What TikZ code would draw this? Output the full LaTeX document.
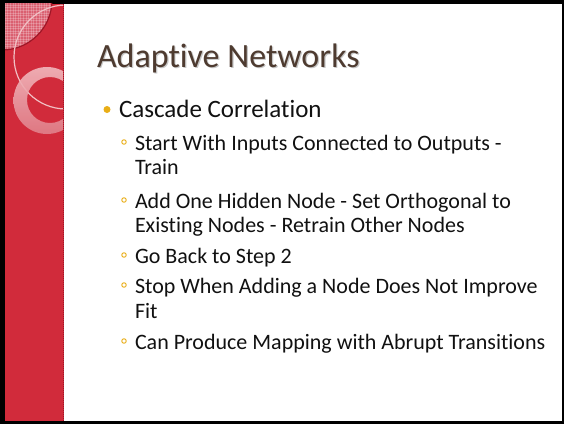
\documentclass[tikz,border=0pt]{standalone}
\usepackage{fontspec}
\setmainfont[RawFeature={-liga;-dlig;-clig}]{Carlito}
\definecolor{slidered}{HTML}{D12B3B}
\definecolor{darkred}{HTML}{9E1626}
\definecolor{checkpink}{HTML}{DA6070}
\definecolor{ringlight}{HTML}{F2B9BE}
\definecolor{ringdark}{HTML}{E0808A}
\definecolor{titlebrown}{HTML}{4E3B30}
\definecolor{bulletgold}{HTML}{E9AE16}
\definecolor{bodytext}{HTML}{111111}
\tikzset{
  lbl/.style={anchor=base west, inner sep=0pt, outer sep=0pt},
  titletext/.style={lbl, font=\fontsize{34}{40}\selectfont, text=titlebrown},
  lvlone/.style={lbl, font=\fontsize{25}{30}\selectfont, text=bodytext},
  lvltwo/.style={lbl, font=\fontsize{22}{26}\selectfont, text=bodytext},
  dotbullet/.style={circle, fill=bulletgold, inner sep=0pt, minimum size=7pt},
  ringbullet/.style={circle, draw=bulletgold, line width=0.9pt, inner sep=0pt, minimum size=4.5pt},
}
\begin{document}
\begin{tikzpicture}[x=1pt,y=-1pt]
\useasboundingbox (0,0) rectangle (564,424);
\fill[black] (0,0) rectangle (564,424);
\fill[white] (4.5,3.5) rectangle (561.5,420.5);
\fill[slidered] (5,3.5) rectangle (63.5,420.5);
\begin{scope}
  \clip (5,3.5) rectangle (63,420.5);
  % checkered corner
  \fill[checkpink] (2,0) circle (50);
  \begin{scope}
    \clip (2,0) circle (50);
    \foreach \k in {0,2.6,...,60} {
      \draw[white, opacity=0.22, line width=0.7pt] (\k,0) -- (\k,60);
      \draw[white, opacity=0.22, line width=0.7pt] (0,\k) -- (60,\k);
    }
  \end{scope}
  \draw[darkred, line width=1.2pt] (2,0) circle (50);
  % thin light circle
  \draw[white!70!slidered, line width=1.2pt] (66,57) circle (52);
  % thick light ring
  \shade[even odd rule, top color=ringlight, bottom color=ringdark, opacity=0.9]
    (47,100.5) circle (33.5) (50,100) circle (23);
\end{scope}
\draw[darkred, line width=1.4pt, dash pattern=on 1pt off 1pt] (63.3,3.5) -- (63.3,420.5);

% title with shadow
\node[titletext, text=black!22] (titleshadow) at (98.2,68.2) {Adaptive Networks};
\node[titletext] (title) at (97,67) {Adaptive Networks};

% level one
\node[dotbullet] (b1) at (107,109.5) {};
\node[lvlone] (cc) at (119,117) {Cascade Correlation};

% level two
\node[ringbullet] (b2) at (124,142) {};
\node[lvltwo] (s1a) at (135,150) {Start With Inputs Connected to Outputs -};
\node[lvltwo] (s1b) at (135,174) {Train};

\node[ringbullet] (b3) at (124,200) {};
\node[lvltwo] (s2a) at (135,208) {Add One Hidden Node - Set Orthogonal to};
\node[lvltwo] (s2b) at (135,232) {Existing Nodes - Retrain Other Nodes};

\node[ringbullet] (b4) at (124,255) {};
\node[lvltwo] (s3) at (135,263) {Go Back to Step 2};

\node[ringbullet] (b5) at (124,285) {};
\node[lvltwo] (s4a) at (135,293) {Stop When Adding a Node Does Not Improve};
\node[lvltwo] (s4b) at (135,318) {Fit};

\node[ringbullet] (b6) at (124,341) {};
\node[lvltwo] (s5) at (135,349) {Can Produce Mapping with Abrupt Transitions};
\end{tikzpicture}
\end{document}
